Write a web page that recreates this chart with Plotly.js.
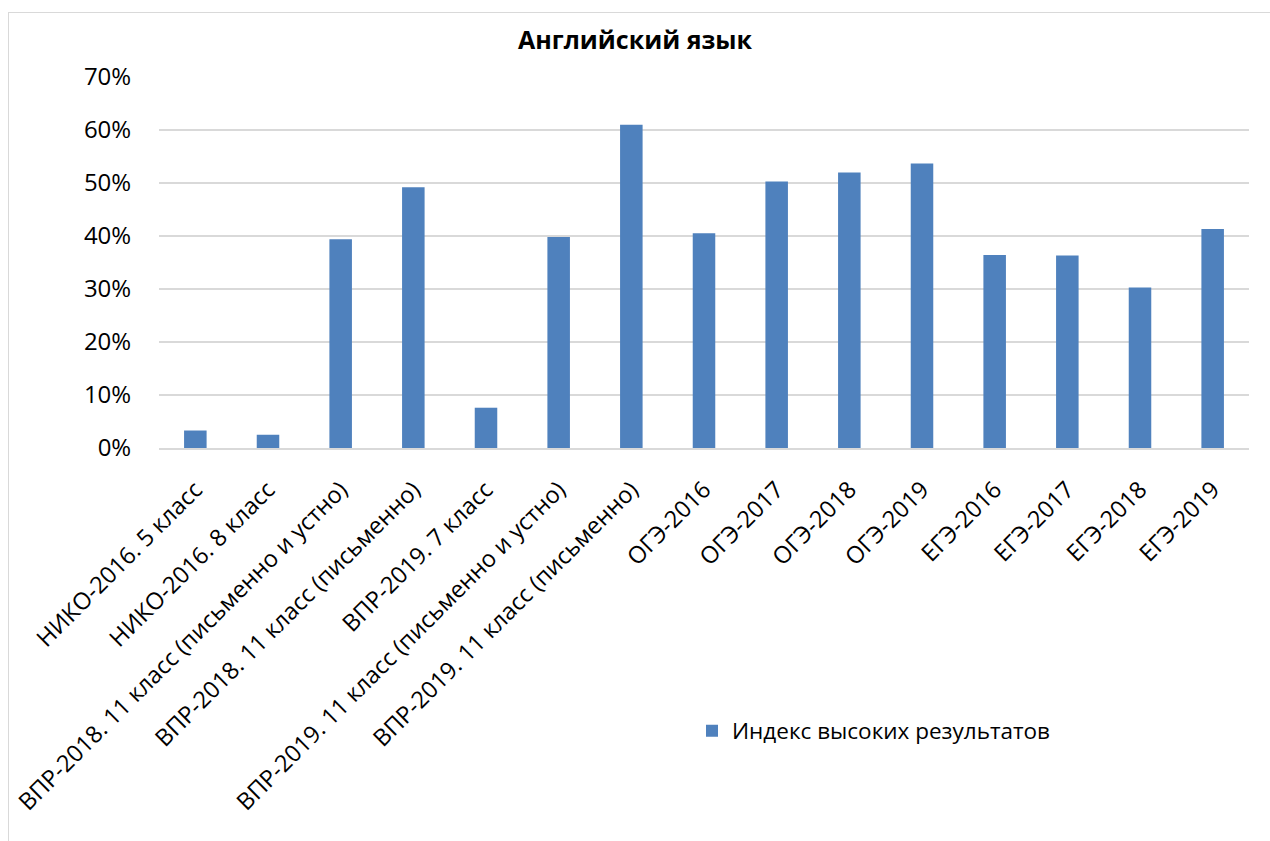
<!DOCTYPE html>
<html>
<head>
<meta charset="utf-8">
<script src="https://cdn.plot.ly/plotly-3.0.1.min.js"></script>
<style>
  html, body { margin: 0; padding: 0; background: #ffffff; }
  #wrap { position: relative; width: 1270px; height: 841px; overflow: hidden; }
  #frame { position: absolute; left: 8px; top: 12px; width: 1400px; height: 1000px;
           border: 1.5px solid #d9d9d9; pointer-events: none; z-index: 5; }
  #chart { position: absolute; left: 0; top: 0; width: 1270px; height: 841px; }
</style>
</head>
<body>
<div id="wrap">
  <div id="chart"></div>
  <div id="frame"></div>
</div>
<script>
const categories = [
  "НИКО-2016. 5 класс",
  "НИКО-2016. 8 класс",
  "ВПР-2018. 11 класс (письменно и устно)",
  "ВПР-2018. 11 класс (письменно)",
  "ВПР-2019. 7 класс",
  "ВПР-2019. 11 класс (письменно и устно)",
  "ВПР-2019. 11 класс (письменно)",
  "ОГЭ-2016",
  "ОГЭ-2017",
  "ОГЭ-2018",
  "ОГЭ-2019",
  "ЕГЭ-2016",
  "ЕГЭ-2017",
  "ЕГЭ-2018",
  "ЕГЭ-2019"
];
const seriesName = "Индекс высоких результатов";
const values = [0.033, 0.025, 0.394, 0.492, 0.076, 0.398, 0.610, 0.405, 0.503, 0.520, 0.537, 0.364, 0.363, 0.303, 0.413];
const yTickValues = [0, 0.1, 0.2, 0.3, 0.4, 0.5, 0.6, 0.7];
const titleText = "Английский язык";

const font = "Open Sans, Noto Sans, DejaVu Sans, sans-serif";

const trace = {
  type: "bar",
  x: categories,
  y: values,
  name: seriesName,
  marker: { color: "#4f81bd", line: { width: 0 } },
  showlegend: true,
  hoverinfo: "x+y"
};

const layout = {
  width: 1270,
  height: 841,
  paper_bgcolor: "#ffffff",
  plot_bgcolor: "#ffffff",
  margin: { l: 159, r: 21, t: 77, b: 393, pad: 0 },
  bargap: 0.69,
  showlegend: true,
  title: {
    text: "<b>" + titleText + "</b>",
    font: { family: font, size: 25, color: "#000000" },
    x: 0.5, xanchor: "center",
    xref: "container",
    y: 1 - 40 / 841, yanchor: "middle", yref: "container"
  },
  xaxis: {
    type: "category",
    tickangle: -45,
    tickfont: { family: font, size: 23.5, color: "#000000" },
    showgrid: false,
    showline: true,
    linecolor: "#d9d9d9",
    linewidth: 1.5,
    ticks: "outside",
    ticklen: 17,
    tickcolor: "rgba(0,0,0,0)",
    automargin: false
  },
  yaxis: {
    range: [0, 0.7],
    tickvals: yTickValues,
    tickformat: ".0%",
    tickfont: { family: font, size: 24, color: "#000000" },
    showgrid: true,
    gridcolor: "#d9d9d9",
    gridwidth: 1.5,
    zeroline: false,
    showline: false,
    ticks: "outside",
    ticklen: 22,
    tickcolor: "rgba(0,0,0,0)",
    automargin: false
  },
  legend: {
    x: (692 - 159) / 1090,
    xanchor: "left",
    y: (448 - 731) / 371,
    yanchor: "middle",
    font: { family: font, size: 22.5, color: "#000000" },
    bgcolor: "rgba(0,0,0,0)"
  }
};

Plotly.newPlot("chart", [trace], layout, { displayModeBar: false, staticPlot: true });
</script>
</body>
</html>
